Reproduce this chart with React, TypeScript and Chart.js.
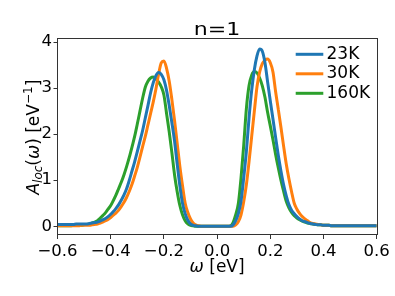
import React, { useEffect, useRef } from "react";
import { Chart, registerables } from "chart.js";

Chart.register(...registerables);

// ω grid [eV]
const omega = [
  -0.6, -0.59, -0.58, -0.57, -0.56, -0.55, -0.54, -0.53, -0.52, -0.51,
  -0.5, -0.49, -0.48, -0.47, -0.46, -0.45, -0.44, -0.43, -0.42, -0.41,
  -0.4, -0.39, -0.38, -0.37, -0.36, -0.35, -0.34, -0.33, -0.32, -0.31,
  -0.3, -0.29, -0.28, -0.27, -0.26, -0.25, -0.24, -0.23, -0.22, -0.21,
  -0.2, -0.19, -0.18, -0.17, -0.16, -0.15, -0.14, -0.13, -0.12, -0.11,
  -0.1, -0.09, -0.08, -0.07, -0.06, -0.05, -0.04, -0.03, -0.02, -0.01,
  0.0, 0.01, 0.02, 0.03, 0.04, 0.05, 0.06, 0.07, 0.08, 0.09,
  0.1, 0.11, 0.12, 0.13, 0.14, 0.15, 0.16, 0.17, 0.18, 0.19,
  0.2, 0.21, 0.22, 0.23, 0.24, 0.25, 0.26, 0.27, 0.28, 0.29,
  0.3, 0.31, 0.32, 0.33, 0.34, 0.35, 0.36, 0.37, 0.38, 0.39,
  0.4, 0.41, 0.42, 0.43, 0.44, 0.45, 0.46, 0.47, 0.48, 0.49,
  0.5, 0.51, 0.52, 0.53, 0.54, 0.55, 0.56, 0.57, 0.58, 0.59,
  0.6,
];

// A_loc(ω) for T = 23K
const a23K = [
  0.04, 0.04, 0.04, 0.04, 0.04, 0.04, 0.04, 0.05, 0.05, 0.05,
  0.05, 0.05, 0.06, 0.07, 0.08, 0.09, 0.11, 0.14, 0.17, 0.21,
  0.26, 0.32, 0.39, 0.47, 0.57, 0.68, 0.82, 1.0, 1.2, 1.4,
  1.62, 1.85, 2.08, 2.35, 2.62, 2.9, 3.12, 3.27, 3.34, 3.3,
  3.18, 2.95, 2.62, 2.25, 1.85, 1.35, 0.88, 0.5, 0.27, 0.13,
  0.05, 0.02, 0.01, 0, 0, 0, 0, 0, 0, 0,
  0, 0, 0, 0, 0, 0.0, 0.03, 0.12, 0.28, 0.55,
  1.05, 1.62, 2.35, 2.95, 3.4, 3.7, 3.85, 3.8, 3.55, 3.13,
  2.72, 2.33, 1.93, 1.54, 1.2, 0.9, 0.66, 0.47, 0.35, 0.27,
  0.21, 0.16, 0.12, 0.1, 0.08, 0.06, 0.05, 0.04, 0.03, 0.03,
  0.02, 0.02, 0.02, 0.01, 0.01, 0.01, 0.01, 0.01, 0.01, 0.01,
  0.01, 0.01, 0.01, 0.01, 0.01, 0.01, 0.01, 0.01, 0.01, 0.01,
  0.01,
];

// A_loc(ω) for T = 30K
const a30K = [
  0.01, 0.01, 0.01, 0.01, 0.01, 0.01, 0.01, 0.01, 0.01, 0.02,
  0.02, 0.02, 0.02, 0.03, 0.04, 0.05, 0.07, 0.09, 0.12, 0.15,
  0.19, 0.24, 0.29, 0.35, 0.43, 0.52, 0.63, 0.76, 0.91, 1.09,
  1.28, 1.5, 1.73, 1.95, 2.2, 2.45, 2.7, 2.98, 3.3, 3.55,
  3.59, 3.43, 3.15, 2.75, 2.3, 1.8, 1.3, 0.88, 0.5, 0.3,
  0.16, 0.07, 0.03, 0.01, 0, 0, 0, 0, 0, 0,
  0, 0, 0, 0, 0, 0, 0, 0.03, 0.1, 0.25,
  0.53, 0.9, 1.4, 1.95, 2.5, 3.03, 3.35, 3.53, 3.61, 3.63,
  3.55, 3.35, 2.92, 2.54, 2.15, 1.74, 1.35, 1.03, 0.75, 0.5,
  0.37, 0.28, 0.21, 0.16, 0.12, 0.08, 0.06, 0.05, 0.04, 0.03,
  0.02, 0.02, 0.02, 0.01, 0.01, 0.01, 0.01, 0.01, 0.01, 0.01,
  0.01, 0.01, 0.01, 0.01, 0.01, 0.01, 0.01, 0.01, 0.01, 0.01,
  0.01,
];

// A_loc(ω) for T = 160K
const a160K = [
  0.01, 0.01, 0.01, 0.01, 0.01, 0.01, 0.02, 0.02, 0.02, 0.02,
  0.03, 0.04, 0.05, 0.07, 0.09, 0.12, 0.17, 0.23, 0.29, 0.37,
  0.45, 0.56, 0.68, 0.82, 0.96, 1.12, 1.3, 1.5, 1.72, 1.95,
  2.22, 2.5, 2.78, 3.02, 3.15, 3.22, 3.24, 3.2, 3.13, 3.03,
  2.85, 2.45, 2.05, 1.6, 1.12, 0.75, 0.45, 0.25, 0.12, 0.05,
  0.02, 0.01, 0, 0, 0, 0, 0, 0, 0, 0,
  0, 0, 0, 0, 0, 0.01, 0.08, 0.25, 0.5, 1.05,
  1.75, 2.55, 3.05, 3.28, 3.36, 3.33, 3.22, 3.05, 2.8, 2.47,
  2.18, 1.88, 1.56, 1.27, 1.0, 0.76, 0.54, 0.4, 0.3, 0.23,
  0.18, 0.14, 0.11, 0.09, 0.07, 0.06, 0.05, 0.04, 0.03, 0.03,
  0.02, 0.02, 0.02, 0.01, 0.01, 0.01, 0.01, 0.01, 0.01, 0.01,
  0.01, 0.01, 0.01, 0.01, 0.01, 0.01, 0.01, 0.01, 0.01, 0.01,
  0.01,
];

const seriesLabels = ["23K", "30K", "160K"];
const seriesColors = ["#1f77b4", "#ff7f0e", "#2ca02c"];
const xTicks = [-0.6, -0.4, -0.2, 0.0, 0.2, 0.4, 0.6];
const yTicks = [0, 1, 2, 3, 4];
const titleText = "n=1";

const FONT = "'DejaVu Sans', 'Liberation Sans', sans-serif";

type Run = { t: string; size: number; italic?: boolean; dy?: number };

function runsWidth(ctx: CanvasRenderingContext2D, runs: Run[]) {
  let w = 0;
  for (const r of runs) {
    ctx.font = `${r.italic ? "italic " : ""}${r.size}px ${FONT}`;
    w += ctx.measureText(r.t).width;
  }
  return w;
}

function drawRuns(ctx: CanvasRenderingContext2D, runs: Run[], x: number, y: number) {
  let cx = x;
  ctx.textAlign = "left";
  ctx.textBaseline = "alphabetic";
  for (const r of runs) {
    ctx.font = `${r.italic ? "italic " : ""}${r.size}px ${FONT}`;
    ctx.fillText(r.t, cx, y + (r.dy || 0));
    cx += ctx.measureText(r.t).width;
  }
}

const decorPlugin = {
  id: "decor",
  afterDraw(chart: any) {
    const ctx: CanvasRenderingContext2D = chart.ctx;
    const ca = chart.chartArea;
    ctx.save();
    // frame
    ctx.strokeStyle = "#333";
    ctx.lineWidth = 1;
    ctx.strokeRect(Math.round(ca.left) - 0.5, Math.round(ca.top) - 0.5, Math.round(ca.right - ca.left) + 1, Math.round(ca.bottom - ca.top));
    ctx.fillStyle = "#000";
    const cx = (ca.left + ca.right) / 2;
    const cy = (ca.top + ca.bottom) / 2;

    // title
    ctx.save();
    ctx.font = `17px ${FONT}`;
    ctx.textAlign = "center";
    ctx.textBaseline = "alphabetic";
    ctx.translate(cx, 35);
    ctx.scale(1.3, 1);
    ctx.fillText(titleText, 0, 0);
    ctx.restore();

    // x label
    const xr: Run[] = [
      { t: "ω", size: 17, italic: true },
      { t: " [eV]", size: 17 },
    ];
    drawRuns(ctx, xr, cx - runsWidth(ctx, xr) / 2, 271.8);

    // y label
    const yr: Run[] = [
      { t: "A", size: 17, italic: true },
      { t: "loc", size: 12, italic: true, dy: 3.5 },
      { t: "(", size: 17 },
      { t: "ω", size: 17, italic: true },
      { t: ") [eV", size: 17 },
      { t: "−1", size: 12, dy: -7 },
      { t: "]", size: 17 },
    ];
    ctx.save();
    ctx.translate(38.5, cy);
    ctx.rotate(-Math.PI / 2);
    drawRuns(ctx, yr, -runsWidth(ctx, yr) / 2, 0);
    ctx.restore();

    // legend
    const ds = chart.data.datasets;
    for (let i = 0; i < ds.length; i++) {
      const ly = 54.3 + i * 19.5;
      ctx.strokeStyle = ds[i].borderColor;
      ctx.lineWidth = 3;
      ctx.beginPath();
      ctx.moveTo(295.7, ly);
      ctx.lineTo(323.3, ly);
      ctx.stroke();
      ctx.fillStyle = "#000";
      ctx.font = `17px ${FONT}`;
      ctx.textAlign = "left";
      ctx.textBaseline = "middle";
      ctx.fillText(ds[i].label, 326.5, ly);
    }
    ctx.restore();
  },
};

export default function App() {
  const ref = useRef<HTMLCanvasElement | null>(null);
  useEffect(() => {
    if (!ref.current) return;
    const series = [a23K, a30K, a160K];
    const chart = new Chart(ref.current, {
      type: "line",
      data: {
        datasets: series.map((arr, i) => ({
          label: seriesLabels[i],
          data: omega.map((x, j) => ({ x, y: arr[j] })),
          borderColor: seriesColors[i],
          backgroundColor: seriesColors[i],
          borderWidth: 3,
          pointRadius: 0,
          cubicInterpolationMode: "monotone" as const,
          fill: false,
        })),
      },
      options: {
        animation: false,
        responsive: false,
        devicePixelRatio: 1,
        layout: { padding: { top: 39.3, right: 18.3, left: 0, bottom: 0 } },
        plugins: { legend: { display: false }, title: { display: false }, tooltip: { enabled: false } },
        scales: {
          x: {
            type: "linear",
            min: -0.6,
            max: 0.6,
            afterBuildTicks: (s: any) => {
              s.ticks = xTicks.map((v) => ({ value: v }));
            },
            afterFit: (s: any) => {
              s.height = 61;
            },
            grid: { display: true, drawOnChartArea: false, drawTicks: true, tickLength: 4, color: "#333", lineWidth: 1 },
            border: { display: false },
            ticks: {
              autoSkip: false,
              maxRotation: 0,
              padding: 3,
              color: "#000",
              font: { size: 16.5, family: FONT },
              callback: (v: any) => Number(v).toFixed(1).replace("-", "−"),
            },
          },
          y: {
            type: "linear",
            min: -0.19,
            max: 4.06,
            afterBuildTicks: (s: any) => {
              s.ticks = yTicks.map((v) => ({ value: v }));
            },
            afterFit: (s: any) => {
              s.width = 57.5;
            },
            grid: { display: true, drawOnChartArea: false, drawTicks: true, tickLength: 4, color: "#333", lineWidth: 1 },
            border: { display: false },
            ticks: {
              autoSkip: false,
              padding: 1.5,
              color: "#000",
              font: { size: 16.5, family: FONT },
              callback: (v: any) => String(v),
            },
          },
        },
      },
      plugins: [decorPlugin],
    });
    return () => chart.destroy();
  }, []);
  return (
    <div style={{ position: "absolute", left: 0, top: 0, width: 395, height: 296, background: "#fff" }}>
      <canvas ref={ref} width={395} height={296} style={{ display: "block", width: 395, height: 296 }} />
    </div>
  );
}
